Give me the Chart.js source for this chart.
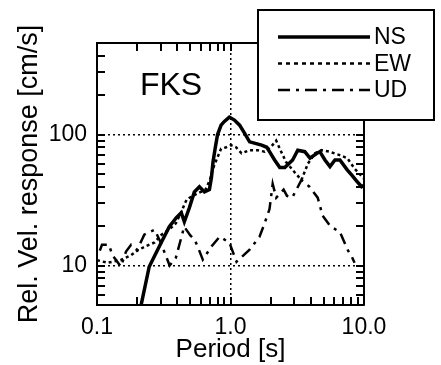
<!DOCTYPE html>
<html>
<head>
<meta charset="utf-8">
<script src="https://cdn.jsdelivr.net/npm/chart.js@4.4.1/dist/chart.umd.min.js"></script>
<style>
  html, body { margin: 0; padding: 0; background: #fff; }
</style>
</head>
<body>
<canvas id="chart" width="441" height="365"></canvas>
<script>
// velocity response spectra, station FKS (log-log)
const panelLabel = 'FKS';
const xTitle = 'Period [s]';
const yTitle = 'Rel. Vel. response [cm/s]';

const xTickValues = [0.1, 0.2, 0.3, 0.4, 0.5, 0.6, 0.7, 0.8, 0.9, 1, 2, 3, 4, 5, 6, 7, 8, 9, 10];
const xLabelValues = [0.1, 1, 10];
const xLabels = ['0.1', '1.0', '10.0'];
const xGridValues = [1];

const yTickValues = [5, 6, 7, 8, 9, 10, 20, 30, 40, 50, 60, 70, 80, 90, 100, 200, 300, 400, 500];
const yLabelValues = [10, 100];
const yLabels = ['10', '100'];
const yGridValues = [10, 100];

const seriesNames = ['NS', 'EW', 'UD'];

const nsPeriod = [0.214, 0.246, 0.278, 0.303, 0.348, 0.393, 0.428, 0.451, 0.492, 0.536,
  0.585, 0.638, 0.695, 0.72, 0.74, 0.77, 0.80, 0.85, 0.90, 0.98,
  1.07, 1.17, 1.27, 1.39, 1.51, 1.71, 1.87, 1.96, 2.14, 2.34,
  2.55, 2.78, 2.92, 3.19, 3.6, 3.94, 4.44, 4.67, 5.1, 5.56,
  6.06, 6.6, 7.46, 8.1, 8.85, 9.6, 10];
const nsVel = [5.0, 9.8, 12.6, 15.0, 19.8, 23.2, 25.3, 21.6, 27.6, 36.5,
  39.9, 36.5, 38, 47, 62, 80, 100, 118, 126, 136,
  129, 118, 103, 88, 86, 83, 80, 74, 64, 56,
  56, 61, 64, 76, 74, 66, 72, 74, 64, 57,
  64, 64, 54, 49, 44, 40, 41];

const ewPeriod = [0.1, 0.12, 0.15, 0.18, 0.2, 0.23, 0.27, 0.3, 0.35, 0.39,
  0.43, 0.47, 0.52, 0.58, 0.65, 0.7, 0.74, 0.78, 0.85, 0.93,
  1.01, 1.1, 1.21, 1.39, 1.6, 1.8, 2.0, 2.2, 2.34, 2.6,
  3.0, 3.4, 3.8, 4.3, 4.8, 5.5, 6.5, 7.5, 8.5, 10];
const ewVel = [11, 10.5, 11, 12, 13, 14, 15, 17, 19, 21,
  26, 32, 34, 36, 38, 45, 55, 63, 78, 80,
  83, 80, 72, 76, 76, 74, 80, 90, 78, 62,
  52, 45, 60, 72, 76, 74, 70, 66, 55, 46];

const udPeriod = [0.105, 0.109, 0.123, 0.13, 0.151, 0.165, 0.18, 0.2, 0.226, 0.27,
  0.3, 0.35, 0.39, 0.45, 0.5, 0.54, 0.58, 0.62, 0.72, 0.83,
  0.98, 1.11, 1.39, 1.65, 1.8, 1.96, 2.07, 2.2, 2.5, 2.65,
  2.9, 3.4, 3.9, 4.5, 4.9, 5.6, 6.6, 7.6, 8.1, 8.5];
const udVel = [13, 14.4, 14.4, 12.1, 9.8, 12.8, 14.4, 13.2, 17.2, 18.8,
  15, 10, 11.5, 19.8, 17, 15.7, 13.2, 11.1, 14, 16.6,
  15, 10.7, 13.2, 16.6, 21, 27, 42, 33, 38, 34,
  33, 45, 40, 33, 24, 20, 18, 13, 11.7, 10.5];

const FONT = '"Liberation Sans", Arial, Helvetica, sans-serif';

function pairs(px, py) {
  return px.map((p, i) => ({ x: p, y: py[i] }));
}

function lineSet(label, data, width, dash) {
  return {
    label: label,
    data: data,
    borderColor: '#000',
    borderWidth: width,
    borderDash: dash,
    pointRadius: 0,
    fill: false,
    tension: 0
  };
}

// inward tick marks on all four sides, placed by the scales
function drawTicks(chart) {
  const { ctx, chartArea: a, scales } = chart;
  const len = 8;
  ctx.save();
  ctx.strokeStyle = '#000';
  ctx.lineWidth = 2;
  ctx.setLineDash([]);
  ctx.beginPath();
  xTickValues.forEach(v => {
    const px = Math.round(scales.x.getPixelForValue(v));
    ctx.moveTo(px, a.bottom); ctx.lineTo(px, a.bottom - len);
    ctx.moveTo(px, a.top); ctx.lineTo(px, a.top + len);
  });
  yTickValues.forEach(v => {
    const py = Math.round(scales.y.getPixelForValue(v));
    ctx.moveTo(a.left, py); ctx.lineTo(a.left + len, py);
    ctx.moveTo(a.right, py); ctx.lineTo(a.right - len, py);
  });
  ctx.stroke();
  ctx.restore();
}

// framed box legend + station label, drawn over the plot
const boxLegend = {
  id: 'boxLegend',
  afterDraw(chart) {
    drawTicks(chart);
    const ctx = chart.ctx;
    ctx.save();
    ctx.fillStyle = '#000';
    ctx.font = '32px ' + FONT;
    ctx.textAlign = 'center';
    ctx.textBaseline = 'alphabetic';
    ctx.fillText(panelLabel, 171, 95);

    ctx.fillStyle = '#fff';
    ctx.fillRect(258, 10, 176, 110);
    ctx.lineWidth = 2;
    ctx.strokeStyle = '#000';
    ctx.setLineDash([]);
    ctx.strokeRect(258, 10, 176, 110);

    const legendDash = [[], [4, 4], [12, 6, 3, 6]];
    chart.data.datasets.forEach((ds, i) => {
      const y = 37 + i * 26.5;
      ctx.beginPath();
      ctx.setLineDash(legendDash[i]);
      ctx.lineWidth = ds.borderWidth;
      ctx.moveTo(278, y);
      ctx.lineTo(370, y);
      ctx.stroke();
      ctx.setLineDash([]);
      ctx.fillStyle = '#000';
      ctx.font = '23px ' + FONT;
      ctx.textAlign = 'left';
      ctx.textBaseline = 'middle';
      ctx.fillText(ds.label, 374, y + 1);
    });
    ctx.restore();
  }
};

function axis(position, values, gridAt, labelAt, labels, size, showLabels, pad) {
  const horizontal = position === 'top' || position === 'bottom';
  return {
    type: 'logarithmic',
    position: position,
    min: values[0],
    max: values[values.length - 1],
    afterBuildTicks: s => { s.ticks = values.map(v => ({ value: v })); },
    afterFit: s => { if (horizontal) s.height = size; else s.width = size; },
    border: { display: true, color: '#000', width: 2, dash: [2, 3] },
    grid: {
      display: true,
      drawOnChartArea: gridAt.length > 0,
      drawTicks: false,
      lineWidth: 1.5,
      color: c => (c.tick && gridAt.includes(c.tick.value)) ? '#000' : 'rgba(0,0,0,0)'
    },
    ticks: {
      display: showLabels,
      autoSkip: false,
      maxRotation: 0,
      padding: pad,
      color: '#000',
      font: { family: FONT, size: 23 },
      callback: v => {
        const k = labelAt.indexOf(v);
        return k >= 0 ? labels[k] : '';
      }
    }
  };
}

const xAxis = axis('bottom', xTickValues, xGridValues, xLabelValues, xLabels, 60, true, 9);
xAxis.title = { display: true, text: xTitle, color: '#000', font: { family: FONT, size: 26 }, padding: { top: 0, bottom: 0 } };
const yAxis = axis('left', yTickValues, yGridValues, yLabelValues, yLabels, 97, true, 10);
yAxis.title = { display: true, text: yTitle, color: '#000', font: { family: FONT, size: 27 }, padding: { top: 13, bottom: 0 } };

new Chart(document.getElementById('chart'), {
  type: 'line',
  data: {
    datasets: [
      lineSet(seriesNames[0], pairs(nsPeriod, nsVel), 3.5, []),
      lineSet(seriesNames[1], pairs(ewPeriod, ewVel), 2.5, [3, 3]),
      lineSet(seriesNames[2], pairs(udPeriod, udVel), 2.5, [11, 6, 3, 6])
    ]
  },
  options: {
    responsive: false,
    animation: false,
    devicePixelRatio: 1,
    layout: { padding: 0 },
    plugins: {
      legend: { display: false },
      tooltip: { enabled: false }
    },
    scales: {
      x: xAxis,
      y: yAxis,
      x2: axis('top', xTickValues, [], [], [], 43, false, 0),
      y2: axis('right', yTickValues, [], [], [], 77, false, 0)
    }
  },
  plugins: [boxLegend]
});
</script>
</body>
</html>
